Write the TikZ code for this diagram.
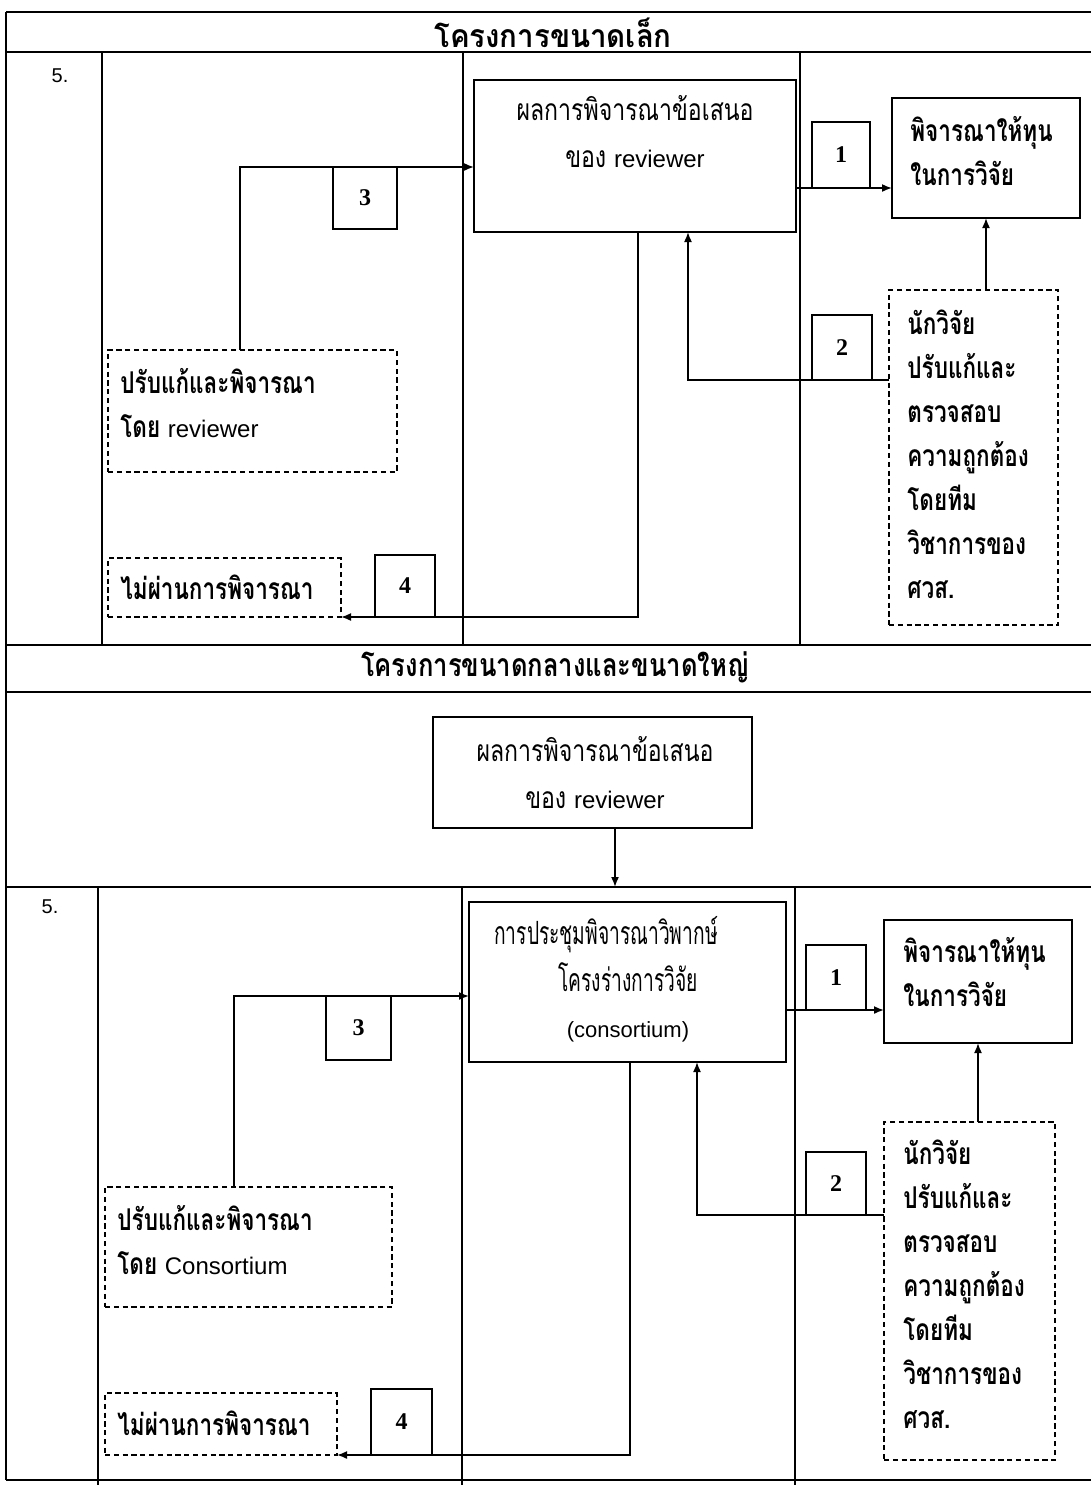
\documentclass[tikz,border=0pt]{standalone}
\usepackage{fontspec}
\usetikzlibrary{arrows.meta}
\newfontfamily\thaiR[Script=Thai, FakeStretch=0.77]{Loma}
\newfontfamily\thaiB[Script=Thai, FakeStretch=0.75]{Loma}
\newfontfamily\thaiG[Script=Thai, FakeStretch=0.6]{Loma}
\newfontfamily\thaiTa[Script=Thai, FakeStretch=0.92]{Loma}
\newfontfamily\thaiTb[Script=Thai, FakeStretch=0.8]{Loma}
\newfontfamily\lat{Liberation Sans}
\newfontfamily\ser{Liberation Serif}
\newcommand\bx[6][]{\node[#1, minimum width={(#4-#2)*0.5pt}, minimum height={(#5-#3)*0.5pt}] (#6) at ({(#2+#4)/2},{(#3+#5)/2}) {};}
\tikzset{
  box/.style={draw, line width=0.85pt, inner sep=0pt, outer sep=0pt},
  dbox/.style={draw, line width=0.75pt, dash pattern=on 2.6pt off 1.8pt, inner sep=0pt, outer sep=0pt},
  num/.style={box, font=\ser\bfseries\fontsize{12}{14}\selectfont},
  arr/.style={line width=0.8pt, -{Latex[length=5pt,width=4pt]}},
  grid/.style={line width=0.7pt},
  ttla/.style={font=\thaiTa\bfseries\fontsize{16}{18}\selectfont, inner sep=0pt},
  ttlb/.style={font=\thaiTb\bfseries\fontsize{16}{18}\selectfont, inner sep=0pt},
  txt/.style={font=\thaiR\fontsize{15}{23.5}\selectfont, align=center, inner sep=0pt},
  gtxt/.style={font=\thaiG\fontsize{16}{23.25}\selectfont, align=center, inner sep=0pt},
  btxt/.style={font=\thaiB\bfseries\fontsize{15}{22}\selectfont, align=left, inner sep=0pt, anchor=west},
  five/.style={font=\lat\fontsize{10}{12}\selectfont, inner sep=0pt},
}
\begin{document}
\begin{tikzpicture}[x=0.5pt, y=-0.5pt]
\useasboundingbox (0,0) rectangle (1091,1485);
% ---------- grid ----------
\coordinate (gTL) at (6,12);
\coordinate (gBL) at (6,1480);
\draw[grid] (gTL) -- (gBL);
\draw[grid] (6,12) -- (1091,12);
\draw[grid] (6,52) -- (1091,52);
\draw[grid] (6,645) -- (1091,645);
\draw[grid] (6,692) -- (1091,692);
\draw[grid] (6,887) -- (1091,887);
\draw[grid] (6,1480) -- (1091,1480);
\draw[grid] (102,52) -- (102,645);
\draw[grid] (463,52) -- (463,645);
\draw[grid] (800,52) -- (800,645);
\draw[grid] (98,887) -- (98,1485);
\draw[grid] (462,887) -- (462,1485);
\draw[grid] (795,887) -- (795,1485);
% ---------- titles ----------
\node[ttla] (t1) at (553,33) {โครงการขนาดเล็ก};
\node[ttlb] (t2) at (555,667) {โครงการขนาดกลางและขนาดใหญ่};
\node[five] (f5a) at (60,76) {5.};
\node[five] (f5b) at (50,907) {5.};
% ---------- top section ----------
\bx[box]{474}{80}{796}{232}{A}
\node[txt] (At) at (635,131.5) {ผลการพิจารณาข้อเสนอ\\ของ {\lat\fontsize{12}{23.5}\selectfont reviewer}};
\bx[box]{892}{98}{1080}{218}{B}
\node[btxt] (Bt) at (910,151.5) {พิจารณาให้ทุน\\ในการวิจัย};
\bx[dbox]{889}{290}{1058}{625}{C}
\node[btxt] (Ct) at (907,454) {นักวิจัย\\ปรับแก้และ\\ตรวจสอบ\\ความถูกต้อง\\โดยทีม\\วิชาการของ\\ศวส.};
\bx[dbox]{108}{350}{397}{472}{D}
\node[btxt] (Dt) at (120,403) {ปรับแก้และพิจารณา\\โดย {\lat\mdseries\fontsize{12}{22}\selectfont reviewer}};
\bx[dbox]{108}{558}{341}{617}{E}
\node[btxt] (Et) at (120,587) {ไม่ผ่านการพิจารณา};
\bx[num]{812}{122}{870}{188}{n1}
\node[num, draw=none] (n1t) at (n1) {1};
\bx[num]{812}{315}{872}{380}{n2}
\node[num, draw=none] (n2t) at (n2) {2};
\bx[num]{333}{167}{397}{229}{n3}
\node[num, draw=none] (n3t) at (n3) {3};
\bx[num]{375}{555}{435}{617}{n4}
\node[num, draw=none] (n4t) at (n4) {4};
\coordinate (a2) at (688,232);
\coordinate (a4) at (638,232);
\coordinate (d3) at (240,350);
\draw[arr] (A.east |- n1.south) -- (B.west |- n1.south);
\draw[arr] (C.north -| B.south) -- (B.south);
\draw[arr] (C.west |- n2.south) -| (a2);
\draw[arr] (a4) |- (E.south east);
\draw[arr] (d3) |- (A.west |- n3.north);
% ---------- bottom section ----------
\bx[box]{433}{717}{752}{828}{F}
\node[txt] (Ft) at (595,773) {ผลการพิจารณาข้อเสนอ\\ของ {\lat\fontsize{12}{23.5}\selectfont reviewer}};
\bx[box]{469}{902}{786}{1062}{G}
\node[gtxt] (Gt) at (628,979.5) {การประชุมพิจารณาวิพากษ์\hspace*{22pt}\\โครงร่างการวิจัย\\{\lat\fontsize{11}{23.25}\selectfont(consortium)}};
\bx[box]{884}{920}{1072}{1043}{H}
\node[btxt] (Ht) at (903,972.5) {พิจารณาให้ทุน\\ในการวิจัย};
\bx[dbox]{884}{1122}{1055}{1460}{I}
\node[btxt] (It) at (903,1284) {นักวิจัย\\ปรับแก้และ\\ตรวจสอบ\\ความถูกต้อง\\โดยทีม\\วิชาการของ\\ศวส.};
\bx[dbox]{105}{1187}{392}{1307}{J}
\node[btxt] (Jt) at (117,1240.5) {ปรับแก้และพิจารณา\\โดย {\lat\mdseries\fontsize{12}{22}\selectfont Consortium}};
\bx[dbox]{105}{1393}{337}{1455}{K}
\node[btxt] (Kt) at (117,1423) {ไม่ผ่านการพิจารณา};
\bx[num]{806}{945}{866}{1010}{m1}
\node[num, draw=none] (m1t) at (m1) {1};
\bx[num]{806}{1152}{866}{1215}{m2}
\node[num, draw=none] (m2t) at (m2) {2};
\bx[num]{326}{996}{391}{1060}{m3}
\node[num, draw=none] (m3t) at (m3) {3};
\bx[num]{371}{1389}{432}{1455}{m4}
\node[num, draw=none] (m4t) at (m4) {4};
\coordinate (f1) at (615,828);
\coordinate (g2) at (697,1062);
\coordinate (g4) at (630,1062);
\coordinate (j3) at (234,1187);
\draw[arr, shorten >=7.5pt] (f1) -- (f1 |- G.north);
\draw[arr] (G.east |- m1.south) -- (H.west |- m1.south);
\draw[arr] (I.north -| H.south) -- (H.south);
\draw[arr] (I.west |- m2.south) -| (g2);
\draw[arr] (g4) |- (K.south east);
\draw[arr] (j3) |- (G.west |- m3.north);
\end{tikzpicture}
\end{document}
